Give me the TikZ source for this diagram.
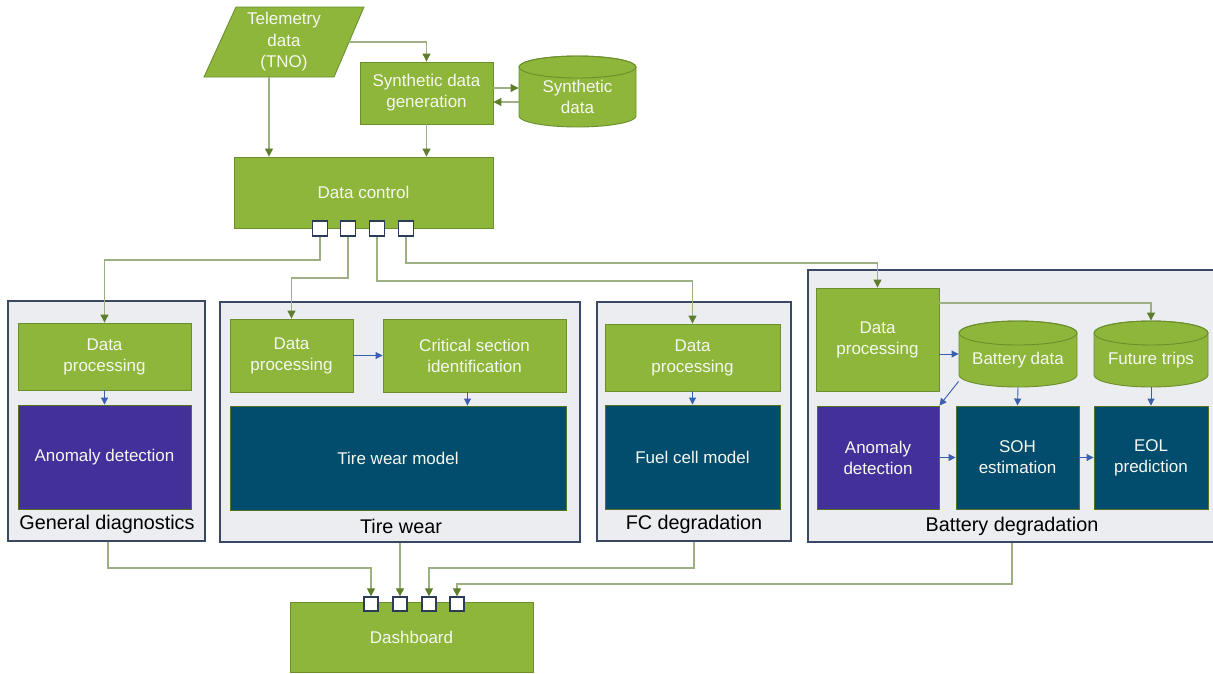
\documentclass[tikz,border=0pt]{standalone}
\usepackage{fontspec}
\setmainfont{Liberation Sans}
\usetikzlibrary{arrows.meta,calc}
\definecolor{gfill}{HTML}{8DB63B}
\definecolor{gborder}{HTML}{6A8F2C}
\definecolor{glinec}{HTML}{9DB083}
\definecolor{gtip}{HTML}{5E7E2C}
\definecolor{tealfill}{HTML}{024D6D}
\definecolor{purpfill}{HTML}{43309A}
\definecolor{contfill}{HTML}{ECEDF0}
\definecolor{contborder}{HTML}{3A4863}
\definecolor{bluel}{HTML}{3A5FAE}
\definecolor{portborder}{HTML}{2C3B58}
\definecolor{boxtext}{HTML}{F6F8F0}
\newcommand\drawcyl[5]{%
  \pgfmathsetmacro\cylrx{(#3-#1)/2}%
  \pgfmathsetmacro\cylcx{(#1+#3)/2}%
  \filldraw[fill=gfill, draw=gborder, line width=0.9pt] (#1,{#4-#5}) arc[start angle=180,end angle=360,x radius=\cylrx pt,y radius=#5 pt] -- (#3,{#2+#5}) arc[start angle=0,end angle=180,x radius=\cylrx pt,y radius=#5 pt] -- cycle;
  \draw[gborder, line width=0.9pt] (\cylcx,{#2+#5}) ellipse[x radius=\cylrx pt,y radius=#5 pt];
}
\tikzset{
  base/.style={rectangle, inner sep=2pt, align=center, text=boxtext, font=\fontsize{17}{21}\selectfont, line width=0.9pt},
  gbox/.style={base, fill=gfill, draw=gborder},
  tbox/.style={base, fill=tealfill, draw=gborder!80!black},
  pbox/.style={base, fill=purpfill, draw=gborder!80!black},
  cyltext/.style={base},
  cont/.style={rectangle, fill=contfill, draw=contborder, line width=1.3pt, inner sep=0},
  port/.style={rectangle, fill=white, draw=portborder, line width=1.3pt, minimum width=15pt, minimum height=15pt, inner sep=0},
  dport/.style={port, minimum width=14pt, minimum height=14pt},
  glink/.style={draw=glinec, line width=1.1pt, -{Triangle[width=8pt,length=8pt,color=gtip]}},
  blink/.style={draw=bluel, line width=0.9pt, -{Triangle[width=7pt,length=7pt,color=bluel]}},
  lbl/.style={font=\fontsize{19.8}{22}\selectfont, text=black, inner sep=0},
}
\begin{document}
\begin{tikzpicture}[x=1pt,y=-1pt]
\useasboundingbox[fill=white] (0,0) rectangle (1213,673);

% containers
\node[cont, minimum width=197pt, minimum height=240pt] (gd) at (106.5,421) {};
\node[cont, minimum width=360pt, minimum height=240pt] (tw) at (400,422) {};
\node[cont, minimum width=194pt, minimum height=239pt] (fc) at (694,421.5) {};
\node[cont, minimum width=408pt, minimum height=272pt] (bat) at (1012,406) {};
\node[lbl] (gdl) at (107,524) {General diagnostics};
\node[lbl] (twl) at (401,526) {Tire wear};
\node[lbl] (fcl) at (694,524) {FC degradation};
\node[lbl] (batl) at (1012,526) {Battery degradation};

% top part
\filldraw[fill=gfill, draw=gborder, line width=0.9pt] (236,7) -- (364,7) -- (334,77) -- (204,77) -- cycle;
\node[base, font=\fontsize{17}{21.5}\selectfont, minimum width=160pt, minimum height=70pt] (tel) at (284,42) {Telemetry\\data\\(TNO)};
\coordinate (telR) at (349,42);
\coordinate (telB) at (269,77);
\node[gbox, minimum width=133pt, minimum height=62pt] (sdg) at (426.5,93) {Synthetic data\\generation};
\drawcyl{519}{56}{636}{127}{11}
\node[cyltext, minimum width=117pt, minimum height=60pt] (sd) at (577.5,97) {Synthetic\\data};
\node[gbox, minimum width=259pt, minimum height=71pt] (dc) at (363.5,192.5) {Data control};

% general diagnostics
\node[gbox, minimum width=173pt, minimum height=67pt] (gddp) at (104.5,356.5) {Data\\processing};
\node[pbox, minimum width=173pt, minimum height=104pt] (gdad) at (104.5,457) {Anomaly detection};

% tire wear
\node[gbox, minimum width=123pt, minimum height=73pt] (tdp) at (291.5,355.5) {Data\\processing};
\node[gbox, minimum width=183pt, minimum height=73pt] (csi) at (474.5,355.5) {Critical section\\identification};
\node[tbox, minimum width=336pt, minimum height=104pt] (twm) at (398,458) {Tire wear model};

% fc degradation
\node[gbox, minimum width=175pt, minimum height=67pt] (fdp) at (692.5,357.5) {Data\\processing};
\node[tbox, minimum width=175pt, minimum height=104pt] (fcm) at (692.5,457) {Fuel cell model};

% battery degradation
\node[gbox, minimum width=123pt, minimum height=103pt] (bdp) at (877.5,339.5) {Data\\processing};
\drawcyl{959}{321}{1077}{387}{12}
\node[cyltext, minimum width=118pt, minimum height=54pt] (bd) at (1018,360) {Battery data};
\drawcyl{1094}{321}{1208}{387}{12}
\node[cyltext, minimum width=114pt, minimum height=54pt] (fut) at (1151,360) {Future trips};
\node[pbox, minimum width=122pt, minimum height=103pt] (bad) at (878,457.5) {Anomaly\\detection};
\node[tbox, minimum width=123pt, minimum height=103pt] (soh) at (1017.5,457.5) {SOH\\estimation};
\node[tbox, minimum width=114pt, minimum height=103pt] (eol) at (1151,457.5) {EOL\\prediction};

% dashboard
\node[gbox, minimum width=243pt, minimum height=70pt] (dash) at (411.5,637) {Dashboard};

% top connectors
\draw[glink] (telR) -| (sdg.north);
\draw[glink] (telB) -- (telB |- dc.north);
\draw[glink] (sdg.south) -- (sdg.south |- dc.north);
\draw[glink] (sdg.east |- 0,88) -- (sd.west |- 0,88);
\draw[glink] (sd.west |- 0,102) -- (sdg.east |- 0,102);

% ports on data control
\node[port] (dcp1) at (320,228.5) {};
\node[port] (dcp2) at (348,228.5) {};
\node[port] (dcp3) at (377,228.5) {};
\node[port] (dcp4) at (406,228.5) {};
\draw[glink] (dcp1.south) |- (gddp.north |- 0,260) -- (gddp.north);
\draw[glink] (dcp2.south) |- (tdp.north |- 0,278) -- (tdp.north);
\draw[glink] (dcp3.south) |- (fdp.north |- 0,281) -- (fdp.north);
\draw[glink] (dcp4.south) |- (bdp.north |- 0,263) -- (bdp.north);

% internal blue connectors
\draw[blink] (gddp.south) -- (gdad.north);
\draw[blink] (tdp.east) -- (csi.west);
\draw[blink] ([xshift=-7pt]csi.south) -- ([xshift=-7pt]csi.south |- twm.north);
\draw[blink] (fdp.south) -- (fcm.north);
\draw[blink] (bdp.east |- 0,354) -- (bd.west |- 0,354);
\draw[glink] (bdp.east |- 0,303) -| ([yshift=12pt]fut.north);
\draw[blink] ([yshift=6pt]bd.south west) -- (bad.north east);
\draw[blink] (bd.south) -- (soh.north);
\draw[blink] (fut.south) -- (eol.north);
\draw[blink] (bad.east) -- (soh.west);
\draw[blink] (soh.east) -- (eol.west);

% ports on dashboard
\node[dport] (dbp1) at (371,604) {};
\node[dport] (dbp2) at (400,604) {};
\node[dport] (dbp3) at (429,604) {};
\node[dport] (dbp4) at (457,604) {};
\draw[glink] ([xshift=1.5pt]gd.south) |- (dbp1.north |- 0,568) -- (dbp1.north);
\draw[glink] (tw.south) -- (dbp2.north);
\draw[glink] (fc.south) |- (dbp3.north |- 0,568) -- (dbp3.north);
\draw[glink] (bat.south) |- (dbp4.north |- 0,584) -- (dbp4.north);
\end{tikzpicture}
\end{document}
